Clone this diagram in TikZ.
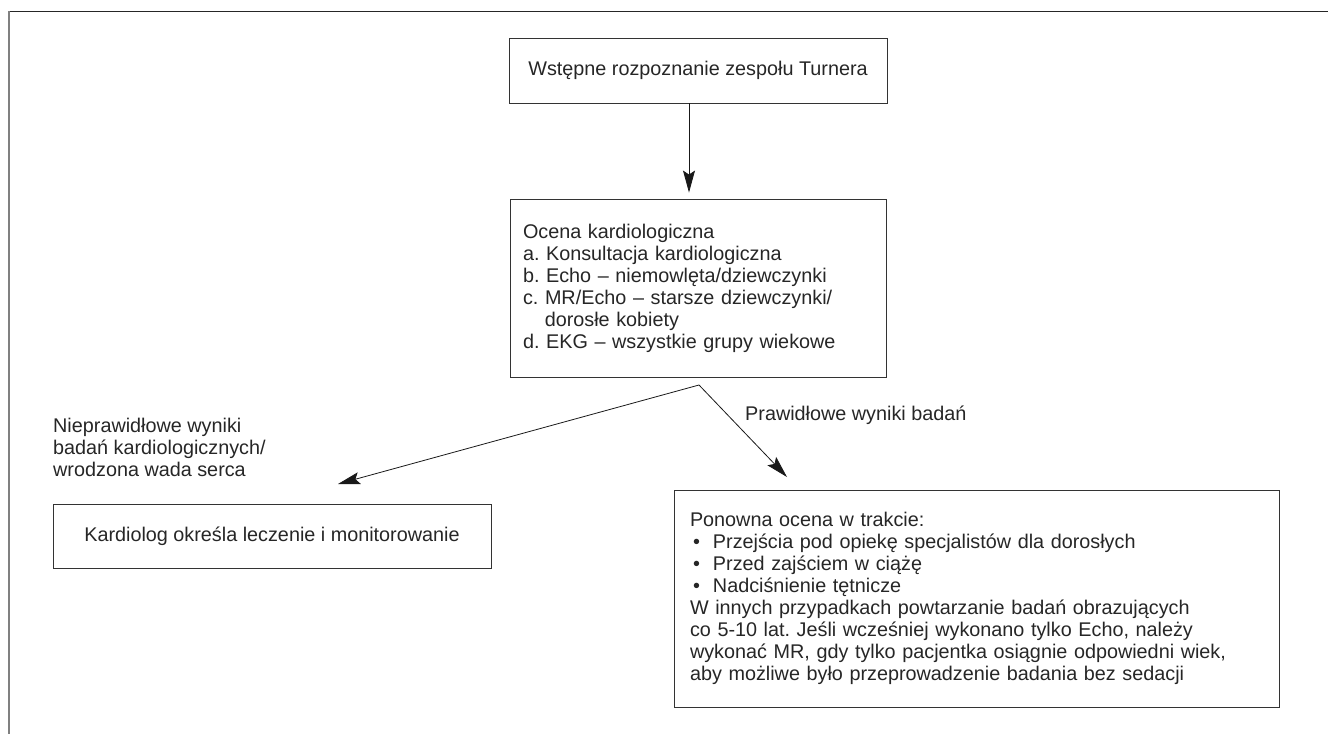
\documentclass[tikz,border=0pt]{standalone}
\usepackage{fontspec}
\setmainfont{Liberation Sans}
\usetikzlibrary{arrows.meta}
\frenchspacing

\begin{document}
\begin{tikzpicture}[x=1pt,y=-1pt,
    every node/.style={font=\fontsize{19.8}{22}\selectfont, text=black!85},
    box/.style={draw=black!80, line width=0.9pt, rectangle, inner sep=0pt},
    arrow/.style={black!90, line width=0.8pt, -{Stealth[length=22pt,width=12pt,inset=4pt]}}]
        \useasboundingbox (0,0) rectangle (1328,734);

        % frame
        \draw [black!85, line width=1pt] (1328,11) -- (9,11);
        \draw [gray, line width=1.6pt] (9,11) -- (9,734);

        \node [box, minimum width=378pt, minimum height=65pt] (start) at (698,70.5)
            {Wstępne rozpoznanie zespołu Turnera};

        \node [box, align=left, text width=350pt, inner xsep=13pt, minimum height=178pt] (eval) at (698,288)
            {Ocena kardiologiczna\\
             a. Konsultacja kardiologiczna\\
             b. Echo – niemowlęta/dziewczynki\\
             c. MR/Echo – starsze dziewczynki/\\
             \hspace*{1.1em}dorosłe kobiety\\
             d. EKG – wszystkie grupy wiekowe};

        \node [box, minimum width=438pt, minimum height=64pt] (treat) at (272,536)
            {Kardiolog określa leczenie i monitorowanie};

        \node [box, align=left, text width=573pt, inner xsep=16pt, minimum height=217pt] (review) at (976.5,598.5)
            {Ponowna ocena w trakcie:\\
             \makebox[23pt][l]{\hspace*{3pt}\textbullet}Przejścia pod opiekę specjalistów dla dorosłych\\
             \makebox[23pt][l]{\hspace*{3pt}\textbullet}Przed zajściem w ciążę\\
             \makebox[23pt][l]{\hspace*{3pt}\textbullet}Nadciśnienie tętnicze\\
             W innych przypadkach powtarzanie badań obrazujących\\
             co 5-10 lat. Jeśli wcześniej wykonano tylko Echo, należy\\
             wykonać MR, gdy tylko pacjentka osiągnie odpowiedni wiek,\\
             aby możliwe było przeprowadzenie badania bez sedacji};

        \node [align=left, anchor=north west, inner sep=0pt] (abnormal) at (53,417.5)
            {Nieprawidłowe wyniki\\ badań kardiologicznych/\\ wrodzona wada serca};
        \node [anchor=base west, inner sep=0pt] (normal) at (745,420) {Prawidłowe wyniki badań};

        \coordinate (fork) at (699,385);
        \coordinate (lefttip) at (338,484);
        \coordinate (righttip) at (787,477);

        \draw [arrow] ([xshift=-9pt]start.south) -- ([xshift=-9pt,yshift=6pt]eval.north);
        \draw [arrow] (fork) -- (lefttip);
        \draw [arrow] (fork) -- (righttip);
    \end{tikzpicture}
\end{document}
